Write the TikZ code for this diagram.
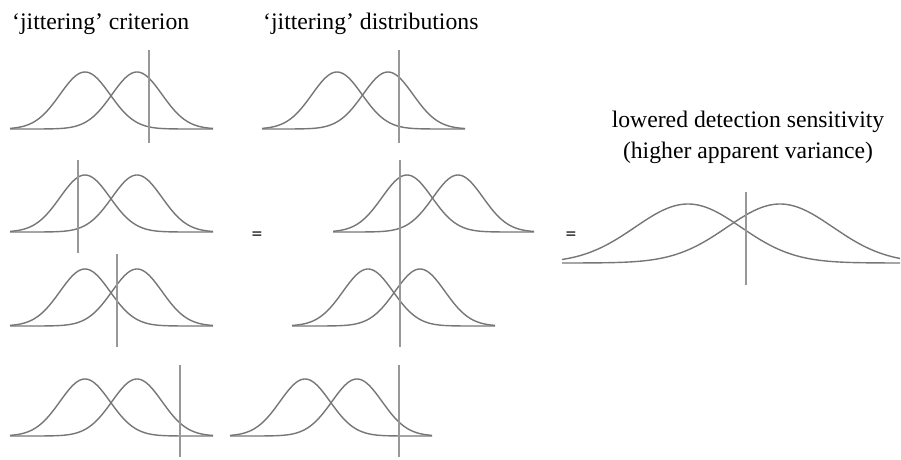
\documentclass[tikz,border=0pt]{standalone}
\usepackage{fontspec}
\setmainfont{Liberation Serif}
\newfontfamily\eqfont{DejaVu Sans}
\definecolor{curvegray}{HTML}{767676}
\definecolor{critgray}{HTML}{989898}
\definecolor{eqgray}{HTML}{404040}
\tikzset{
  curve/.style={draw=curvegray, line width=1.4pt, line join=round},
  crit/.style={draw=critgray, line width=1.1pt},
  label/.style={inner sep=0pt, font=\fontsize{23.7}{30}\selectfont, text=black},
  eqsign/.style={inner sep=0pt, font=\eqfont\bfseries\fontsize{14}{16}\selectfont, text=eqgray}
}
% #1 x0, #2 x1, #3 mean1, #4 mean2, #5 baseline, #6 amplitude, #7 sigma
\newcommand{\gaussPair}[7]{%
  \draw[curve] plot[domain=#1:#2, samples=120, smooth] (\x, {#5 - #6*exp(-0.5*((\x-#3)/#7)^2)});
  \draw[curve] plot[domain=#1:#2, samples=120, smooth] (\x, {#5 - #6*exp(-0.5*((\x-#4)/#7)^2)});
}
\begin{document}
\begin{tikzpicture}[x=1pt, y=-1pt]
\useasboundingbox (0,0) rectangle (901,459);

% titles
\node[label, anchor=base west] (t1) at (12,29) {‘jittering’ criterion};
\node[label, anchor=base west] (t2) at (263,29) {‘jittering’ distributions};
\node[label, anchor=base] (t3) at (748,127) {lowered detection sensitivity};
\node[label, anchor=base] (t4) at (748,158) {(higher apparent variance)};

% equals signs
\node[eqsign] (eq1) at (257,235) {=};
\node[eqsign] (eq2) at (571,235) {=};

% row 1
\gaussPair{10}{213}{85}{137}{129}{57}{25}
\draw[crit] (149,50) -- (149,143);
\gaussPair{262}{465}{337}{388}{129}{57}{25}
\draw[crit] (399,50) -- (399,143);

% row 2
\gaussPair{10}{213}{85}{137}{232}{57}{25}
\draw[crit] (78,160) -- (78,253);
\gaussPair{333}{534}{407}{458}{232}{57}{25}
\draw[crit] (400,160) -- (400,254);

% row 3
\gaussPair{10}{213}{85}{137}{326}{57}{25}
\draw[crit] (117,254) -- (117,347);
\gaussPair{292}{495}{368}{420}{326}{57}{25}
\draw[crit] (400,254) -- (400,347);

% row 4
\gaussPair{10}{213}{85}{137}{436}{57}{25}
\draw[crit] (180,365) -- (180,457);
\gaussPair{230}{432}{305}{357}{436}{57}{25}
\draw[crit] (399,365) -- (399,457);

% result
\gaussPair{562}{900}{688}{780}{263}{59}{53}
\draw[crit] (746,192) -- (746,285);
\end{tikzpicture}
\end{document}
